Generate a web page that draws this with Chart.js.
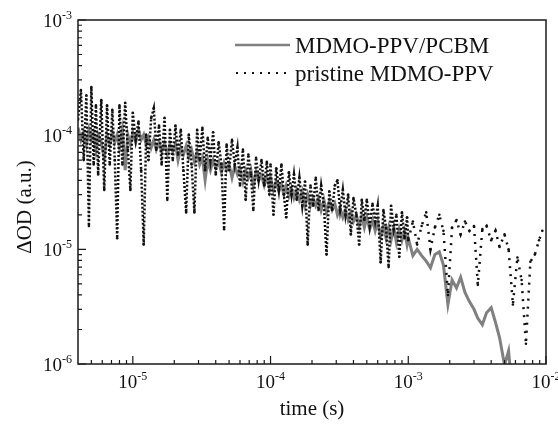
<!DOCTYPE html>
<html>
<head>
<meta charset="utf-8">
<script src="https://cdn.jsdelivr.net/npm/chart.js@4.4.1/dist/chart.umd.min.js"></script>
<style>
  html, body { margin: 0; padding: 0; background: #fff; }
  canvas { display: block; }
</style>
</head>
<body>
<canvas id="tas" width="558" height="426"></canvas>
<script>
// sampling times (s), shared by both transients
const time = [
  4.0e-6, 4.2e-6, 4.4e-6, 4.6e-6, 4.8e-6, 5.0e-6, 5.2e-6, 5.4e-6, 5.6e-6, 5.9e-6,
  6.2e-6, 6.5e-6, 6.8e-6, 7.1e-6, 7.4e-6, 7.7e-6, 8.0e-6, 8.4e-6, 8.8e-6, 9.2e-6,
  9.6e-6,
  1.0e-5, 1.05e-5, 1.1e-5, 1.15e-5, 1.2e-5, 1.25e-5, 1.3e-5, 1.36e-5, 1.42e-5, 1.48e-5,
  1.55e-5, 1.62e-5, 1.7e-5, 1.78e-5, 1.86e-5, 1.95e-5, 2.04e-5, 2.13e-5, 2.23e-5, 2.33e-5,
  2.44e-5, 2.55e-5, 2.67e-5, 2.8e-5, 2.93e-5, 3.06e-5, 3.2e-5, 3.35e-5, 3.5e-5, 3.66e-5,
  3.83e-5, 4.0e-5, 4.2e-5, 4.4e-5, 4.6e-5, 4.8e-5, 5.0e-5, 5.25e-5, 5.5e-5, 5.75e-5,
  6.0e-5, 6.3e-5, 6.6e-5, 6.9e-5, 7.2e-5, 7.5e-5, 7.85e-5, 8.2e-5, 8.6e-5, 9.0e-5,
  9.4e-5, 9.8e-5,
  1.0e-4, 1.05e-4, 1.1e-4, 1.15e-4, 1.2e-4, 1.25e-4, 1.3e-4, 1.36e-4, 1.42e-4, 1.48e-4,
  1.55e-4, 1.62e-4, 1.7e-4, 1.78e-4, 1.86e-4, 1.95e-4, 2.04e-4, 2.13e-4, 2.23e-4, 2.33e-4,
  2.44e-4, 2.55e-4, 2.67e-4, 2.8e-4, 2.93e-4, 3.06e-4, 3.2e-4, 3.35e-4, 3.5e-4, 3.66e-4,
  3.83e-4, 4.0e-4, 4.2e-4, 4.4e-4, 4.6e-4, 4.8e-4, 5.0e-4, 5.25e-4, 5.5e-4, 5.75e-4,
  6.0e-4, 6.3e-4, 6.6e-4, 6.9e-4, 7.2e-4, 7.5e-4, 7.85e-4, 8.2e-4, 8.6e-4, 9.0e-4,
  9.4e-4, 9.8e-4,
  1.0e-3, 1.08e-3, 1.16e-3, 1.25e-3, 1.35e-3, 1.45e-3, 1.56e-3, 1.68e-3, 1.8e-3, 1.94e-3,
  2.08e-3, 2.24e-3, 2.4e-3, 2.58e-3, 2.78e-3, 3.0e-3, 3.2e-3, 3.45e-3, 3.7e-3, 4.0e-3,
  4.3e-3, 4.6e-3, 5.0e-3, 5.35e-3, 5.75e-3, 6.2e-3, 6.65e-3, 7.15e-3, 7.7e-3, 8.3e-3,
  8.9e-3, 9.4e-3
];

// MDMO-PPV/PCBM blend
const odBlend = [
  1.15e-4, 9.0e-5, 1.05e-4, 8.2e-5, 1.1e-4, 9.0e-5, 1.04e-4, 7.4e-5, 1.0e-4, 8.6e-5,
  6.3e-5, 1.0e-4, 8.2e-5, 1.05e-4, 8.6e-5, 1.0e-4, 7.7e-5, 1.1e-4, 4.9e-5, 1.0e-4,
  8.2e-5,
  1.05e-4, 8.6e-5, 1.1e-4, 9.0e-5, 1.0e-4, 8.2e-5, 9.4e-5, 7.7e-5, 9.0e-5, 7.4e-5,
  8.6e-5, 7.1e-5, 8.4e-5, 6.7e-5, 8.2e-5, 7.1e-5, 8.3e-5, 6.0e-5, 7.7e-5, 6.7e-5,
  8.0e-5, 6.3e-5, 7.4e-5, 5.8e-5, 7.1e-5, 5.5e-5, 6.3e-5, 4.0e-5, 6.0e-5, 4.9e-5,
  6.0e-5, 5.1e-5, 5.8e-5, 4.7e-5, 5.7e-5, 4.9e-5, 5.5e-5, 4.2e-5, 5.3e-5, 4.5e-5,
  5.1e-5, 3.9e-5, 4.9e-5, 4.2e-5, 4.9e-5, 3.6e-5, 4.7e-5, 4.0e-5, 4.4e-5, 3.6e-5,
  4.3e-5, 3.4e-5,
  4.2e-5, 3.3e-5, 3.9e-5, 3.2e-5, 3.7e-5, 3.0e-5, 3.6e-5, 2.9e-5, 3.4e-5, 2.8e-5,
  3.3e-5, 2.7e-5, 3.2e-5, 2.4e-5, 3.0e-5, 2.4e-5, 2.8e-5, 2.4e-5, 2.8e-5, 2.2e-5,
  2.7e-5, 2.1e-5, 2.6e-5, 2.2e-5, 2.5e-5, 2.0e-5, 2.3e-5, 1.9e-5, 2.2e-5, 1.8e-5,
  2.1e-5, 1.75e-5, 2.0e-5, 1.6e-5, 1.95e-5, 1.55e-5, 1.9e-5, 1.5e-5, 1.8e-5, 1.45e-5,
  1.75e-5, 1.3e-5, 1.6e-5, 1.25e-5, 1.55e-5, 1.2e-5, 1.55e-5, 1.15e-5, 1.5e-5, 1.2e-5,
  1.45e-5, 1.1e-5,
  1.25e-5, 8.8e-6, 1.0e-5, 8.8e-6, 7.9e-6, 6.9e-6, 9.0e-6, 9.5e-6, 7.3e-6, 3.3e-6,
  5.4e-6, 4.6e-6, 5.7e-6, 4.2e-6, 3.5e-6, 3.0e-6, 2.5e-6, 2.2e-6, 2.8e-6, 3.1e-6,
  2.3e-6, 1.7e-6, 9.8e-7, 1.3e-6, 5.0e-7, null, null, null, null, null,
  null, null
];

// pristine MDMO-PPV
const odPristine = [
  1.35e-4, 2.45e-4, 6.0e-5, 2.2e-4, 1.6e-5, 2.6e-4, 5.5e-5, 1.8e-4, 4.5e-5, 2.0e-4,
  3.3e-5, 1.8e-4, 5.5e-5, 1.65e-4, 6.0e-5, 1.25e-5, 1.8e-4, 5.5e-5, 1.9e-4, 7.4e-5,
  3.3e-5,
  1.55e-4, 9.0e-5, 1.3e-4, 4.9e-5, 1.1e-5, 1.0e-4, 6.0e-5, 1.4e-4, 1.7e-4, 7.4e-5,
  1.2e-4, 5.5e-5, 1.4e-4, 2.7e-5, 1.1e-4, 6.0e-5, 1.2e-4, 6.7e-5, 1.1e-4, 4.9e-5,
  2.1e-5, 1.0e-4, 5.5e-5, 2.1e-5, 1.1e-4, 6.0e-5, 1.15e-4, 4.9e-5, 9.4e-5, 6.0e-5,
  1.05e-4, 4.5e-5, 8.6e-5, 5.5e-5, 1.5e-5, 8.2e-5, 4.9e-5, 9.0e-5, 5.5e-5, 7.7e-5,
  3.6e-5, 7.4e-5, 2.7e-5, 6.7e-5, 4.5e-5, 2.2e-5, 6.3e-5, 4.0e-5, 6.0e-5, 3.6e-5,
  5.8e-5, 3.0e-5,
  5.5e-5, 2.0e-5, 5.1e-5, 3.3e-5, 5.5e-5, 3.0e-5, 1.9e-5, 4.7e-5, 3.0e-5, 4.5e-5,
  2.7e-5, 4.2e-5, 2.4e-5, 3.9e-5, 1.1e-5, 3.6e-5, 2.4e-5, 4.2e-5, 2.2e-5, 3.6e-5,
  2.4e-5, 9.0e-6, 3.2e-5, 2.2e-5, 3.6e-5, 4.0e-5, 2.2e-5, 3.3e-5, 2.0e-5, 3.0e-5,
  1.35e-5, 2.8e-5, 2.0e-5, 1.1e-5, 2.7e-5, 1.8e-5, 2.7e-5, 1.6e-5, 2.5e-5, 1.75e-5,
  2.4e-5, 7.7e-6, 2.2e-5, 1.55e-5, 7.0e-6, 2.4e-5, 1.5e-5, 2.0e-5, 8.6e-6, 2.1e-5,
  1.25e-5, 1.9e-5,
  1.2e-5, 1.75e-5, 1.1e-5, 1.6e-5, 2.1e-5, 1.0e-5, 1.55e-5, 2.0e-5, 1.45e-5, 4.0e-6,
  1.55e-5, 1.8e-5, 1.35e-5, 1.75e-5, 1.45e-5, 1.6e-5, 4.9e-6, 1.5e-5, 1.6e-5, 1.2e-5,
  1.45e-5, 1.05e-5, 1.35e-5, 1.0e-5, 3.3e-6, 8.5e-6, 5.4e-6, 1.5e-6, 7.8e-6, 9.0e-6,
  1.2e-5, 1.45e-5
];

const seriesNames = ['MDMO-PPV/PCBM', 'pristine MDMO-PPV'];
const xDecades = [-5, -4, -3, -2];
const yDecades = [-6, -5, -4, -3];
const xTitle = 'time (s)';
const yTitle = 'ΔOD (a.u.)';

const serif = "'Liberation Serif', 'Times New Roman', serif";

function pts(vals) {
  return time.map((t, i) => ({ x: t, y: vals[i] }));
}

// "10" with a raised exponent
function drawPow(ctx, e, px, base, anchor) {
  ctx.font = '19px ' + serif;
  const w1 = ctx.measureText('10').width;
  ctx.font = '12px ' + serif;
  const sup = String(e);
  const w2 = ctx.measureText(sup).width;
  const x0 = anchor === 'center' ? px - (w1 + w2) / 2 : px - (w1 + w2);
  ctx.font = '19px ' + serif;
  ctx.fillText('10', x0, base);
  ctx.font = '12px ' + serif;
  ctx.fillText(sup, x0 + w1, base - 8);
}

const frame = {
  id: 'frame',
  afterDraw(chart) {
    const { ctx, chartArea: a, scales: { x, y } } = chart;
    ctx.save();
    ctx.strokeStyle = '#1a1a1a';
    ctx.fillStyle = '#111';
    ctx.lineWidth = 1.5;
    ctx.strokeRect(a.left, a.top, a.right - a.left, a.bottom - a.top);

    // inward ticks on left and bottom axes
    ctx.lineWidth = 1.2;
    ctx.beginPath();
    for (let n = -6; n <= -3; n++) {
      for (let k = 1; k <= 9; k++) {
        const v = k * Math.pow(10, n);
        if (v > 1.0001e-3) break;
        const py = y.getPixelForValue(v);
        const len = k === 1 ? 8 : 4;
        ctx.moveTo(a.left, py);
        ctx.lineTo(a.left + len, py);
      }
    }
    for (let n = -6; n <= -2; n++) {
      for (let k = 1; k <= 9; k++) {
        const v = k * Math.pow(10, n);
        if (v <= 4.05e-6 || v > 1.0001e-2) continue;
        const px = x.getPixelForValue(v);
        const len = k === 1 ? 8 : 4;
        ctx.moveTo(px, a.bottom);
        ctx.lineTo(px, a.bottom - len);
      }
    }
    ctx.stroke();

    // tick labels
    ctx.textAlign = 'left';
    ctx.textBaseline = 'alphabetic';
    yDecades.forEach(e => drawPow(ctx, e, 72, y.getPixelForValue(Math.pow(10, e)) + 7, 'right'));
    xDecades.forEach(e => drawPow(ctx, e, x.getPixelForValue(Math.pow(10, e)), a.bottom + 24, 'center'));

    // axis titles
    ctx.font = '21px ' + serif;
    ctx.textAlign = 'center';
    ctx.fillText(xTitle, (a.left + a.right) / 2, 415);
    ctx.save();
    ctx.translate(31, 207);
    ctx.rotate(-Math.PI / 2);
    ctx.fillText(yTitle, 0, 0);
    ctx.restore();

    // legend
    ctx.strokeStyle = '#808080';
    ctx.lineWidth = 2.5;
    ctx.beginPath();
    ctx.moveTo(235, 45);
    ctx.lineTo(290, 45);
    ctx.stroke();
    ctx.strokeStyle = '#111';
    ctx.lineWidth = 2;
    ctx.setLineDash([2, 6]);
    ctx.beginPath();
    ctx.moveTo(236, 73);
    ctx.lineTo(292, 73);
    ctx.stroke();
    ctx.setLineDash([]);
    ctx.font = '23px ' + serif;
    ctx.textAlign = 'left';
    ctx.fillText(seriesNames[0], 295, 53);
    ctx.fillText(seriesNames[1], 295, 81);
    ctx.restore();
  }
};

// sparser sampling in the late tail of the pristine trace
const tailDash = c => (c.p0.parsed.x >= 1e-3 ? [2, 6] : undefined);

new Chart(document.getElementById('tas'), {
  type: 'line',
  data: {
    datasets: [
      {
        label: seriesNames[1],
        data: pts(odPristine),
        borderColor: '#111111',
        borderWidth: 2.5,
        borderDash: [2, 2],
        segment: { borderDash: tailDash },
        pointRadius: 1.3,
        pointBorderWidth: 0,
        pointBackgroundColor: '#111111',
        order: 0
      },
      {
        label: seriesNames[0],
        data: pts(odBlend),
        borderColor: '#808080',
        borderWidth: 3,
        pointRadius: 0,
        order: 1
      }
    ]
  },
  options: {
    responsive: false,
    animation: false,
    layout: { padding: { left: 78, right: 12, top: 20, bottom: 62 } },
    scales: {
      x: { type: 'logarithmic', min: 4e-6, max: 1e-2, display: false },
      y: { type: 'logarithmic', min: 1e-6, max: 1e-3, display: false }
    },
    plugins: {
      legend: { display: false },
      tooltip: { enabled: false }
    }
  },
  plugins: [frame]
});
</script>
</body>
</html>
